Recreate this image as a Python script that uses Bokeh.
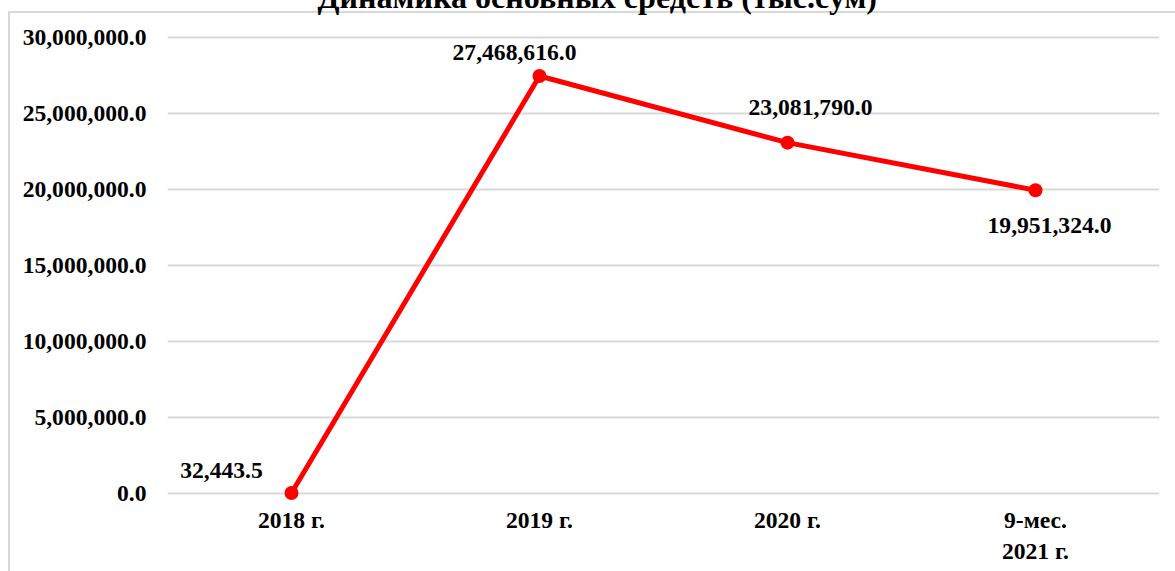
from bokeh.plotting import figure
from bokeh.models import FactorRange, Range1d, FixedTicker, NumeralTickFormatter
from bokeh.core.properties import value
from bokeh.embed import file_html
from bokeh.resources import INLINE

# ---- data ----
categories = ["2018 г.", "2019 г.", "2020 г.", "9-мес.\n2021 г."]
values = [32443.5, 27468616.0, 23081790.0, 19951324.0]
value_labels = ["32,443.5", "27,468,616.0", "23,081,790.0", "19,951,324.0"]
y_ticks = [0, 5000000, 10000000, 15000000, 20000000, 25000000, 30000000]
title_text = "Динамика основных средств (тыс.сум)"

# ---- style / layout ----
FONT = "Liberation Serif"
LBL = "23.6px"
label_dx = [-70, -25, 23, 14]
label_dy = [-23, -23, -35, 35]

p = figure(width=1167, height=621, x_range=FactorRange(*categories, range_padding=0),
           y_range=Range1d(-986842, 30986842), output_backend="svg",
           toolbar_location=None, title=title_text)
# chart-area border (top and left edges) drawn behind the transparent border area
p.styles = {
    "margin-top": "-50px", "margin-left": "8px", "margin-bottom": "-12px",
    "background": ("linear-gradient(#d9d9d9, #d9d9d9) 0px 61px / 100% 2px no-repeat, "
                   "linear-gradient(#d9d9d9, #d9d9d9) 0px 61px / 2px 100% no-repeat, white"),
}
p.min_border = 0
p.min_border_top = 72
p.min_border_bottom = 63
p.min_border_left = 159
p.min_border_right = 16
p.outline_line_color = None
p.background_fill_color = "white"
p.border_fill_color = None

p.title.text_font = FONT
p.title.text_font_style = "bold"
p.title.text_font_size = "32.1px"
p.title.text_color = "black"
p.title.align = "left"
p.title.offset = 150
p.title.standoff = 15

# axes
p.yaxis.ticker = FixedTicker(ticks=y_ticks)
p.yaxis.formatter = NumeralTickFormatter(format="0,0.0")
for ax in (p.xaxis[0], p.yaxis[0]):
    ax.axis_line_color = None
    ax.major_tick_line_color = None
    ax.minor_tick_line_color = None
    ax.major_tick_out = 0
    ax.major_tick_in = 0
    ax.major_label_text_font = FONT
    ax.major_label_text_font_style = "bold"
    ax.major_label_text_font_size = LBL
    ax.major_label_text_color = "black"
p.yaxis.major_label_standoff = 21
p.xaxis.major_label_standoff = -2

p.xgrid.grid_line_color = None
p.ygrid.grid_line_color = "#d9d9d9"
p.ygrid.grid_line_width = 2
p.ygrid.ticker = FixedTicker(ticks=y_ticks)

# series
p.line(categories, values, line_color="#ff0000", line_width=5)
p.scatter(categories, values, size=14, fill_color="#ff0000", line_color=None)
p.text(x=categories, y=values, text=value_labels, x_offset=label_dx, y_offset=label_dy,
       text_align="center", text_baseline="middle", text_font=value(FONT),
       text_font_style="bold", text_font_size=LBL, text_color="black")

open("out.html", "w").write(file_html(p, INLINE))
